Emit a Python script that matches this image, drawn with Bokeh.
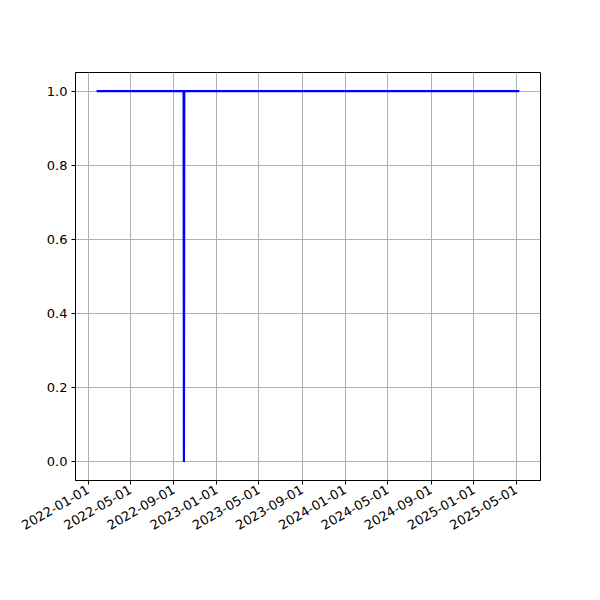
import math
from datetime import datetime
from bokeh.plotting import figure
from bokeh.models import Range1d, FixedTicker, PrintfTickFormatter, DatetimeTickFormatter, MonthsTicker
from bokeh.embed import file_html
from bokeh.resources import INLINE

dates = ["2022-01-25", "2022-09-29", "2022-09-30", "2022-10-01", "2025-05-10"]
values = [1, 1, 0, 1, 1]
y_ticks = [0.0, 0.2, 0.4, 0.6, 0.8, 1.0]

xs = [datetime.strptime(d, "%Y-%m-%d") for d in dates]
span = xs[-1] - xs[0]
pad = span * 0.05

p = figure(width=584, height=584, output_backend="svg", toolbar_location=None,
           x_axis_type="datetime",
           x_range=Range1d(xs[0] - pad, xs[-1] + pad),
           y_range=Range1d(-0.05, 1.05),
           min_border_left=75, min_border_right=44, min_border_top=72, min_border_bottom=104)

p.line(xs, values, line_color="blue", line_width=2.2)

p.outline_line_color = "black"
p.outline_line_width = 1
p.background_fill_color = "white"
p.border_fill_color = "white"

p.xaxis.ticker = MonthsTicker(months=[0, 4, 8])
p.xaxis.formatter = DatetimeTickFormatter(months="%Y-%m-%d", days="%Y-%m-%d", years="%Y-%m-%d")
p.xaxis.major_label_orientation = math.pi / 6
p.yaxis.ticker = FixedTicker(ticks=y_ticks)
p.yaxis.formatter = PrintfTickFormatter(format="%.1f")

for ax in (p.xaxis, p.yaxis):
    ax.major_label_text_font = "DejaVu Sans"
    ax.major_label_text_font_size = "13px"
    ax.major_label_text_color = "black"
    ax.axis_line_color = "black"
    ax.major_tick_line_color = "black"
    ax.major_tick_out = 4
    ax.major_tick_in = 0
    ax.minor_tick_line_color = None
    ax.major_label_standoff = 4

p.grid.grid_line_color = "#b0b0b0"
p.grid.grid_line_width = 1
p.xgrid.ticker = p.xaxis.ticker
p.ygrid.ticker = p.yaxis.ticker

open("out.html", "w").write(file_html(p, INLINE))
